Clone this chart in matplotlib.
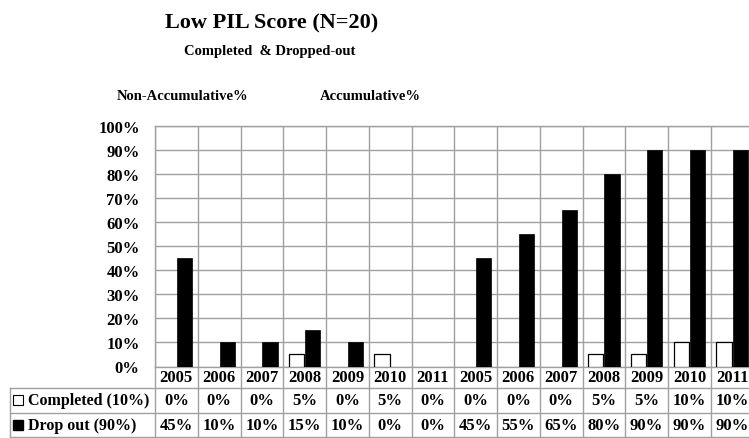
import numpy as np
import matplotlib.pyplot as plt

years = ['2005', '2006', '2007', '2008', '2009', '2010', '2011']
categories = years + years
completed = [0, 0, 0, 5, 0, 5, 0, 0, 0, 0, 5, 5, 10, 10]
drop_out = [45, 10, 10, 15, 10, 0, 0, 45, 55, 65, 80, 90, 90, 90]
row_labels = ['Completed (10%)', 'Drop out (90%)']
yticks = list(range(0, 101, 10))

W, H = 749, 439
plt.rcParams['font.family'] = ['Liberation Serif', 'DejaVu Serif']
plt.rcParams['font.weight'] = 'bold'
grid_col = '#a0a0a0'

fig = plt.figure(figsize=(W / 100, H / 100), dpi=100)
fig.patch.set_facecolor('white')

# plot area in pixels
left, right, top, bottom = 155, 753.5, 127, 367.5
n = len(categories)
ax = fig.add_axes([left / W, 1 - bottom / H, (right - left) / W, (bottom - top) / H])

x = np.arange(n) + 0.5
w = 0.36
lw_c = [0.9 if v > 0 else 0 for v in completed]
ax.bar(x - 0.19, completed, w, color='white', edgecolor='black', linewidth=lw_c, zorder=3)
ax.bar(x + 0.19, drop_out, w, color='black', edgecolor='black', linewidth=0.5, zorder=3)

ax.set_xlim(0, n)
ax.set_ylim(0, 100)
ax.set_yticks(yticks)
ax.set_yticklabels(['%d%%' % t for t in yticks], fontsize=12, fontweight='bold')
ax.set_xticks(np.arange(n + 1), minor=False)
ax.set_xticklabels([])
ax.tick_params(length=0, pad=11)
ax.grid(True, color=grid_col, linewidth=1.0, zorder=0)
for s in ax.spines.values():
    s.set_color(grid_col)
    s.set_linewidth(1.0)

# data table below the plot
lab = (left - 10) / ((right - left) / n)
tab = fig.add_axes([10 / W, 1 - 438.5 / H, (right - 10) / W, (438.5 - bottom) / H])
tab.set_xlim(-lab, n)
tab.set_ylim(438.5, bottom)
tab.axis('off')
rows = [bottom, 388.5, 414, 437.5]
for r in rows[1:]:
    tab.plot([-lab, n], [r, r], color=grid_col, lw=1.0, clip_on=False)
for i in range(n + 1):
    tab.plot([i, i], [rows[0], rows[-1]], color=grid_col, lw=1.0, clip_on=False)
tab.plot([-lab, -lab], [rows[1], rows[-1]], color=grid_col, lw=1.0, clip_on=False)

ymid = [(rows[k] + rows[k + 1]) / 2 for k in range(3)]
for i, c in enumerate(categories):
    tab.text(i + 0.5, ymid[0], c, ha='center', va='center', fontsize=12, fontweight='bold')
    tab.text(i + 0.5, ymid[1], '%d%%' % completed[i], ha='center', va='center', fontsize=12, fontweight='bold')
    tab.text(i + 0.5, ymid[2], '%d%%' % drop_out[i], ha='center', va='center', fontsize=12, fontweight='bold')

px = (right - left) / n
mx = -lab + 7.5 / px
tab.plot(mx, ymid[1], marker='s', ms=6.5, mfc='white', mec='black', mew=0.8, clip_on=False)
tab.plot(mx, ymid[2], marker='s', ms=6.5, mfc='black', mec='black', clip_on=False)
for k, lbl in enumerate(row_labels):
    tab.text(-lab + 18 / px, ymid[k + 1], lbl, ha='left', va='center', fontsize=11.5, fontweight='bold')

# titles
fig.text(272 / W, 1 - 23 / H, 'Low PIL Score (N=20)', ha='center', va='center', fontsize=16, fontweight='bold')
fig.text(270 / W, 1 - 52 / H, 'Completed  & Dropped-out', ha='center', va='center', fontsize=10.5, fontweight='bold')
fig.text(183 / W, 1 - 97 / H, 'Non-Accumulative%', ha='center', va='center', fontsize=10.5, fontweight='bold')
fig.text(370 / W, 1 - 97 / H, 'Accumulative%', ha='center', va='center', fontsize=10.5, fontweight='bold')

fig.savefig('out.png', dpi=100, facecolor='white')
